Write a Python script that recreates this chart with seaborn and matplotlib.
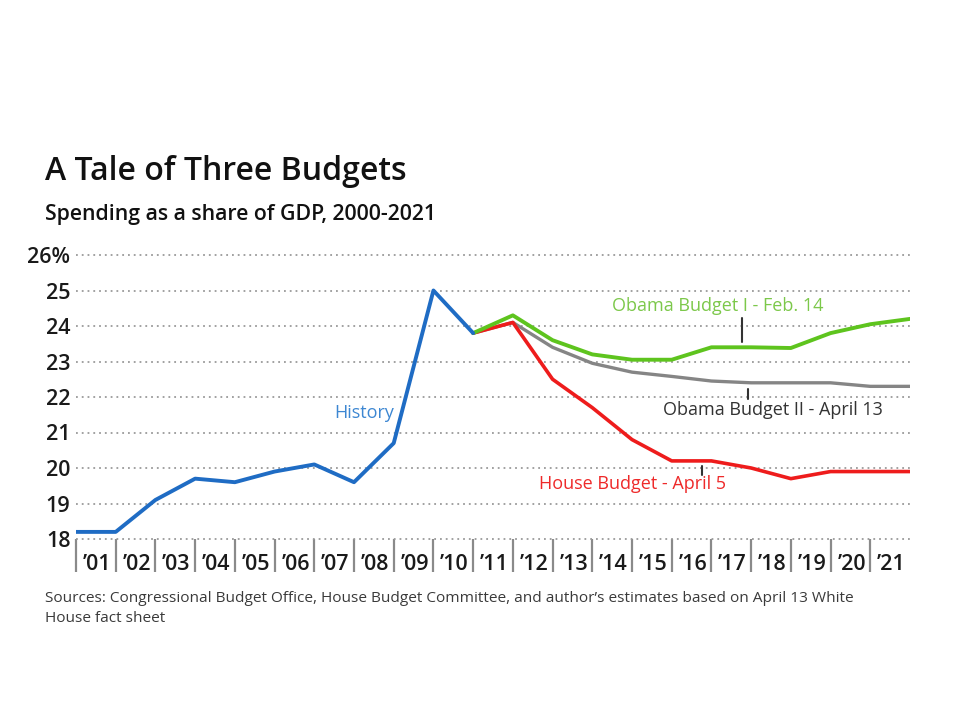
import matplotlib
matplotlib.use("Agg")
import matplotlib.pyplot as plt
import numpy as np
import pandas as pd
import seaborn as sns

# data
hist_years = [2000, 2001, 2002, 2003, 2004, 2005, 2006, 2007, 2008, 2009, 2010]
history = [18.2, 18.2, 19.1, 19.7, 19.6, 19.9, 20.1, 19.6, 20.7, 25.0, 23.8]

proj_years = [2010, 2011, 2012, 2013, 2014, 2015, 2016, 2017, 2018, 2019, 2020, 2021]
obama1 = [23.8, 24.3, 23.6, 23.2, 23.05, 23.05, 23.4, 23.4, 23.38, 23.8, 24.05, 24.2]
obama2 = [23.8, 24.1, 23.4, 22.95, 22.7, 22.58, 22.45, 22.4, 22.4, 22.4, 22.3, 22.3]
house = [23.8, 24.1, 22.5, 21.7, 20.8, 20.2, 20.2, 20.0, 19.7, 19.9, 19.9, 19.9]

y_ticks = [18, 19, 20, 21, 22, 23, 24, 25, 26]
y_labels = ['18', '19', '20', '21', '22', '23', '24', '25', '26%']
x_labels = ["\u201901", "\u201902", "\u201903", "\u201904", "\u201905", "\u201906", "\u201907",
            "\u201908", "\u201909", "\u201910", "\u201911", "\u201912", "\u201913", "\u201914",
            "\u201915", "\u201916", "\u201917", "\u201918", "\u201919", "\u201920", "\u201921"]

sns.set_style("white")
plt.rcParams['font.family'] = ['Open Sans', 'DejaVu Sans']

fig = plt.figure(figsize=(9.6, 7.2), dpi=100)
ax = fig.add_axes([76 / 960, 1 - 539 / 720, (910 - 76) / 960, (539 - 255) / 720])

df_hist = pd.DataFrame({'year': hist_years, 'share': history})
df_o1 = pd.DataFrame({'year': proj_years, 'share': obama1})
df_o2 = pd.DataFrame({'year': proj_years, 'share': obama2})
df_h = pd.DataFrame({'year': proj_years, 'share': house})

sns.lineplot(data=df_o2, x='year', y='share', color='#858585', lw=2.4, ax=ax, zorder=3)
sns.lineplot(data=df_h, x='year', y='share', color='#ee1c1c', lw=2.6, ax=ax, zorder=4)
sns.lineplot(data=df_o1, x='year', y='share', color='#5ec41e', lw=2.8, ax=ax, zorder=5)
sns.lineplot(data=df_hist, x='year', y='share', color='#1f6cc4', lw=2.8, ax=ax, zorder=6)

ax.set_xlim(2000, 2021)
ax.set_ylim(18, 26)
ax.set_xlabel('')
ax.set_ylabel('')
for s in ax.spines.values():
    s.set_visible(False)

ax.set_yticks(y_ticks)
ax.set_yticklabels(y_labels, fontsize=15.5, color='#1a1a1a', fontweight='semibold')
ax.tick_params(axis='y', length=0, pad=4)
for y in y_ticks:
    ax.axhline(y, color='#9a9a9a', lw=1.3, ls=(0, (1, 2.2)), zorder=1, clip_on=False)

# year boundary ticks and labels between them
ax.set_xticks(np.arange(2000, 2021))
ax.set_xticklabels([])
ax.tick_params(axis='x', which='major', bottom=True, length=24, width=1.6, color='#8a8a8a',
               direction='out')
ax.set_xticks(np.arange(2000, 2021) + 0.53, minor=True)
ax.set_xticklabels(x_labels, minor=True, fontsize=15.5, color='#1a1a1a', fontweight='semibold')
ax.tick_params(axis='x', which='minor', bottom=True, length=0, pad=11)

# series labels
ax.text(2007.25, 21.55, 'History', color='#3d87d2', fontsize=13, ha='center', va='center')
ax.text(2013.5, 24.56, 'Obama Budget I - Feb. 14', color='#7cc84a', fontsize=13, ha='left', va='center')
ax.plot([2016.77, 2016.77], [23.55, 24.23], color='#333333', lw=1.5)
ax.text(2014.78, 21.63, 'Obama Budget II - April 13', color='#333333', fontsize=13, ha='left', va='center')
ax.plot([2016.92, 2016.92], [21.95, 22.23], color='#333333', lw=1.5)
ax.text(2011.65, 19.55, 'House Budget - April 5', color='#ee2a2a', fontsize=13, ha='left', va='center')
ax.plot([2015.77, 2015.77], [19.8, 20.05], color='#333333', lw=1.5)

fig.text(45 / 960, 1 - 172 / 720, 'A Tale of Three Budgets', fontsize=23, fontweight='semibold',
         color='#111111', va='center')
fig.text(45 / 960, 1 - 214 / 720, 'Spending as a share of GDP, 2000-2021', fontsize=15.3,
         fontweight='semibold', color='#111111', va='center')
fig.text(45 / 960, 1 - 598 / 720,
         "Sources: Congressional Budget Office, House Budget Committee, and author\u2019s estimates based on April 13 White",
         fontsize=11.1, color='#3a3a3a', va='center')
fig.text(45 / 960, 1 - 618 / 720, 'House fact sheet', fontsize=11.1, color='#3a3a3a', va='center')

plt.savefig('out.png', dpi=100)
